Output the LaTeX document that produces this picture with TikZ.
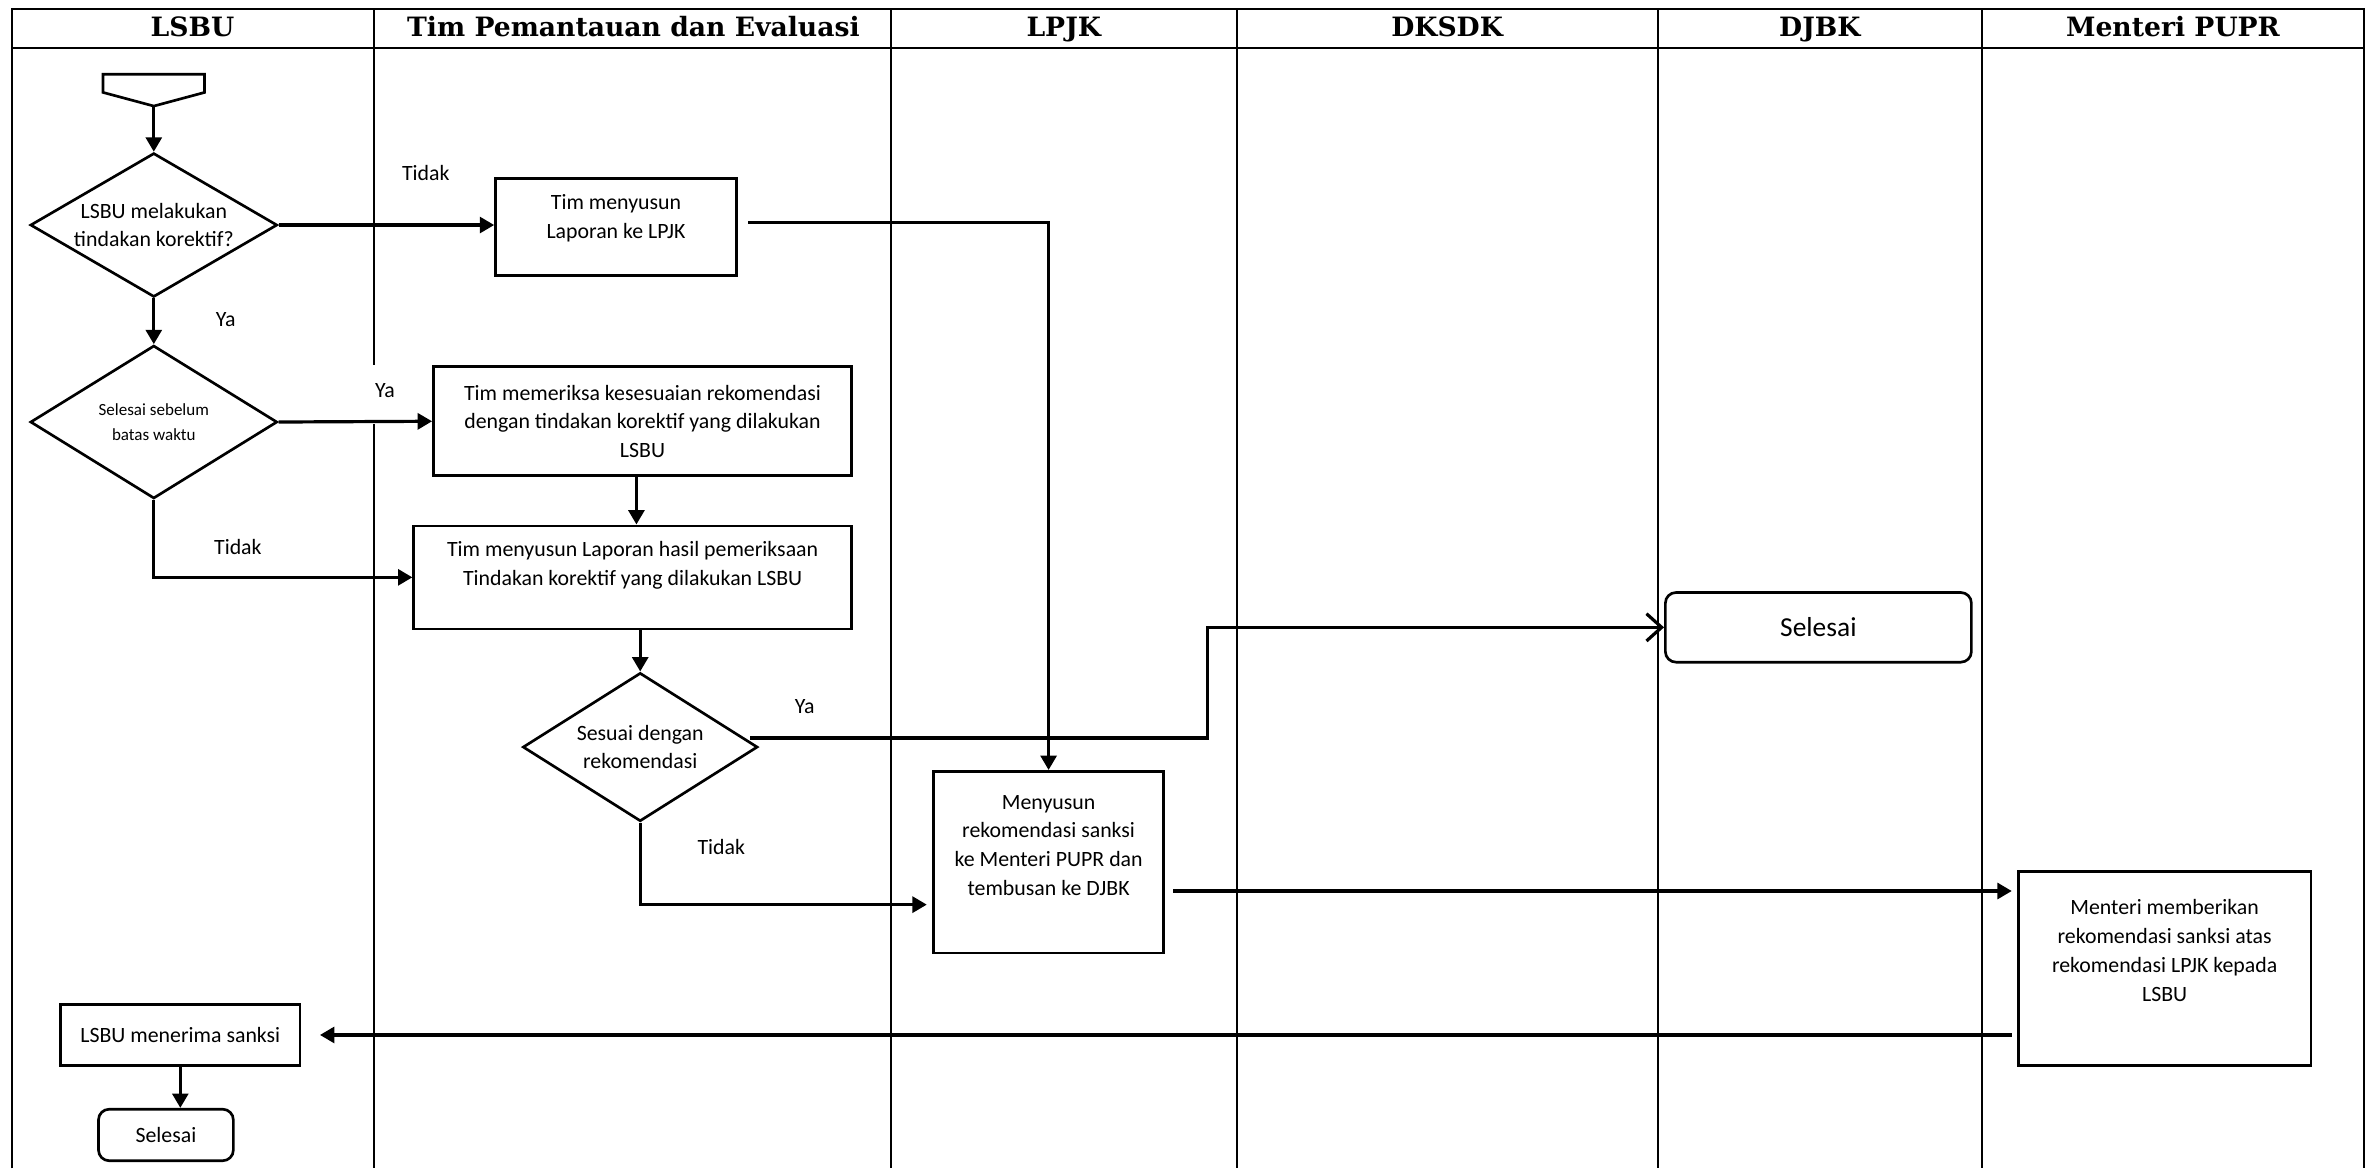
\documentclass[tikz,border=0pt]{standalone}
\usepackage{fontspec}
\setmainfont{Carlito}
\newfontfamily\judulfont{DejaVu Serif}
\usetikzlibrary{arrows.meta,shapes.geometric}
\tikzset{
>={Triangle[length=1.9mm,width=2.1mm]},
garis/.style={line width=0.75pt},
kotak/.style={draw,line width=1pt,align=center,inner sep=1pt},
kotak bulat/.style={kotak,rounded corners=4pt},
belah/.style={draw,diamond,aspect=1.7,line width=1pt,align=center,inner sep=0pt},
judul/.style={font=\judulfont\bfseries\fontsize{10}{12}\selectfont,text height=0.75em,text depth=0.2em},
panah/.style={->,line width=1.2pt},
panah terbuka/.style={-{Straight Barb[length=2mm,width=3.6mm]},line width=1.2pt}}

\begin{document}
\begin{tikzpicture}[x=0.02cm,y=-0.02cm,font=\fontsize{8.2}{10.8}\selectfont]
\useasboundingbox (0,0) rectangle (1568,771);

\draw[garis] (8,771) -- (8,6) -- (1560,6) -- (1560,771);
\draw[garis] (8,32) -- (1560,32);
\draw[garis] (247,6) -- (247,241);
\draw[garis] (247,280) -- (247,771);
\foreach \x in {588,816,1094,1308}
  \draw[garis] (\x,6) -- (\x,771);

\node[judul] (hLSBU) at (127,19) {LSBU};
\node[judul] (hTim) at (418,19) {Tim Pemantauan dan Evaluasi};
\node[judul] (hLPJK) at (702,19) {LPJK};
\node[judul] (hDKSDK) at (955,19) {DKSDK};
\node[judul] (hDJBK) at (1201,19) {DJBK};
\node[judul] (hMenteri) at (1434,19) {Menteri PUPR};

\draw[line width=1pt] (68,49) -- (135,49) -- (135,61) -- (101.5,70) -- (68,61) -- cycle;
\coordinate (mulai) at (101.5,70);

\node[belah,minimum width=3.26cm,minimum height=1.9cm] (cek) at (101.5,148.5) {LSBU melakukan\\tindakan korektif?};
\node[belah,minimum width=3.26cm,minimum height=2.02cm,font=\fontsize{6.4}{9.2}\selectfont] (waktu) at (101.5,278.5) {Selesai sebelum\\batas waktu};
\node[belah,minimum width=3.1cm,minimum height=1.96cm] (sesuai) at (422.5,493) {Sesuai dengan\\rekomendasi};

\node[kotak,minimum width=3.18cm,minimum height=1.28cm,text depth=0.28cm] (lapor) at (406.5,150) {Tim menyusun\\Laporan ke LPJK};
\node[kotak,minimum width=5.52cm,minimum height=1.44cm] (periksa) at (424,278) {Tim memeriksa kesesuaian rekomendasi\\dengan tindakan korektif yang dilakukan\\LSBU};
\node[kotak,minimum width=5.78cm,minimum height=1.36cm,text depth=0.37cm] (hasil) at (417.5,381) {Tim menyusun Laporan hasil pemeriksaan\\Tindakan korektif yang dilakukan LSBU};
\node[kotak,minimum width=3.04cm,minimum height=2.4cm,text depth=0.45cm] (lpjk) at (692,569) {Menyusun\\rekomendasi sanksi\\ke Menteri PUPR dan\\tembusan ke DJBK};
\node[kotak,minimum width=3.86cm,minimum height=2.56cm,text depth=0.47cm] (menteri) at (1428.5,639) {Menteri memberikan\\rekomendasi sanksi atas\\rekomendasi LPJK kepada\\LSBU};
\node[kotak,minimum width=3.16cm,minimum height=0.8cm] (terima) at (119,683) {LSBU menerima sanksi};
\node[kotak bulat,minimum width=4.04cm,minimum height=0.92cm,font=\fontsize{10.3}{12}\selectfont] (selesaiA) at (1200,414) {Selesai};
\node[kotak bulat,minimum width=1.78cm,minimum height=0.68cm] (selesaiB) at (109.5,749) {Selesai};

\node (tidak1) at (281,114) {Tidak};
\node (ya1) at (149,211) {Ya};
\node (ya2) at (254,258) {Ya};
\node (tidak2) at (157,361) {Tidak};
\node (ya3) at (531,466) {Ya};
\node (tidak3) at (476,559) {Tidak};

\draw[panah] (mulai) -- (cek.north);
\draw[panah] (cek.east) -- (cek.east -| lapor.west);
\draw[panah,shorten <=4pt] (lapor.east |- 0,147) -| (lpjk.north);
\draw[panah] (cek.south) -- (waktu.north);
\draw[panah] (waktu.east) -- (periksa.west);
\draw[panah] (420,0 |- periksa.south) -- (420,0 |- hasil.north);
\draw[panah] (waktu.south) |- (hasil.west);
\draw[panah] (hasil.south -| sesuai.north) -- (sesuai.north);
\draw[panah terbuka] (495,0 |- 0,487) -- ++(302,0) |- (selesaiA.west);
\draw[panah,shorten >=2pt] (sesuai.south) |- ([yshift=-0.56cm]lpjk.west);
\draw[panah,shorten <=3pt,shorten >=2pt] (lpjk.east |- 0,588) -- (menteri.west |- 0,588);
\draw[panah,shorten <=2pt,shorten >=7pt] (menteri.west |- terima.east) -- (terima.east);
\draw[panah] (terima.south) -- (terima.south |- selesaiB.north);

\end{tikzpicture}
\end{document}
